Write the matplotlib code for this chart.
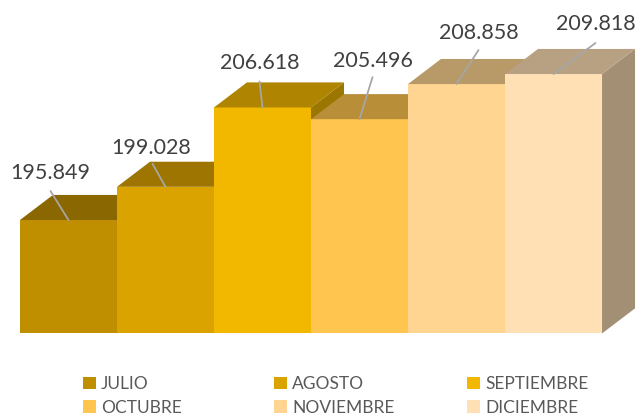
import matplotlib.pyplot as plt
from matplotlib.patches import Polygon, Patch
from matplotlib.colors import to_rgb

# ---------- Data ----------
months = ['JULIO', 'AGOSTO', 'SEPTIEMBRE', 'OCTUBRE', 'NOVIEMBRE', 'DICIEMBRE']
values = [195.849, 199.028, 206.618, 205.496, 208.858, 209.818]
colors = ['#BF8F00', '#DAA300', '#F2B800', '#FFC54F', '#FFD591', '#FFE0B4']

# ---------- Layout ----------
BASE = 185.0            # value at the floor of the bars
DEPTH_X = 0.34          # 3D depth offset (bar units)
DEPTH_Y = 2.4           # 3D depth offset (value units)
# label / leader offsets in pixels from the front-top centre of each bar
label_off = [(-18, 47), (-14, 39), (-3, 44), (13, 58), (22, 51), (42, 50)]
leader_off = [(-18, 29), (-13, 23), (-3, 26), (13, 42), (22, 34), (42, 31)]


def shade(c, f):
    r, g, b = to_rgb(c)
    return (r * f, g * f, b * f)


fig = plt.figure(figsize=(6.39, 4.16), dpi=100)
ax = fig.add_axes([0, 0, 1, 1])
ax.set_xlim(-0.706, 5.881)
ax.set_ylim(177.1, 216.9)
ax.axis('off')

x = list(range(len(values)))
heights = [v - BASE for v in values]
bars = ax.bar(x, heights, bottom=BASE, width=1.0, color=colors, linewidth=0)

for i, (v, c) in enumerate(zip(values, colors)):
    z = 10 + i
    bars[i].set_zorder(z)
    left, right = i - 0.5, i + 0.5
    top = Polygon([(left, v), (right, v), (right + DEPTH_X, v + DEPTH_Y),
                   (left + DEPTH_X, v + DEPTH_Y)],
                  closed=True, facecolor=shade(c, 0.72), edgecolor='none', zorder=z)
    side = Polygon([(right, BASE), (right, v), (right + DEPTH_X, v + DEPTH_Y),
                    (right + DEPTH_X, BASE + DEPTH_Y)],
                   closed=True, facecolor=shade(c, 0.64), edgecolor='none', zorder=z)
    ax.add_patch(side)
    ax.add_patch(top)

# ---------- Data labels with leader lines ----------
for i, v in enumerate(values):
    ax.annotate('', xy=(i, v), xytext=leader_off[i], textcoords='offset pixels',
                arrowprops=dict(arrowstyle='-', color='#A6A6A6', lw=1.3,
                                shrinkA=0, shrinkB=0), zorder=30)
    ax.annotate(f'{v:.3f}', xy=(i, v), xytext=label_off[i], textcoords='offset pixels',
                ha='center', va='center', fontsize=15.5, family='Lato',
                color='#404040', zorder=31)

# ---------- Legend (3 columns, row-wise order) ----------
col_x = [83, 274, 467]
for c in range(3):
    idx = [c, c + 3]
    handles = [Patch(facecolor=colors[k], edgecolor='none') for k in idx]
    leg = fig.legend(handles, [months[k] for k in idx], loc='upper left',
                     bbox_to_anchor=(col_x[c] / 639, 1 - 376 / 416),
                     frameon=False, borderpad=0, borderaxespad=0,
                     handlelength=0.75, handleheight=0.75, handletextpad=0.3,
                     labelspacing=0.45, prop={'family': 'Lato', 'size': 12.5})
    for t in leg.get_texts():
        t.set_color('#595959')

fig.savefig('out.png', dpi=100)
